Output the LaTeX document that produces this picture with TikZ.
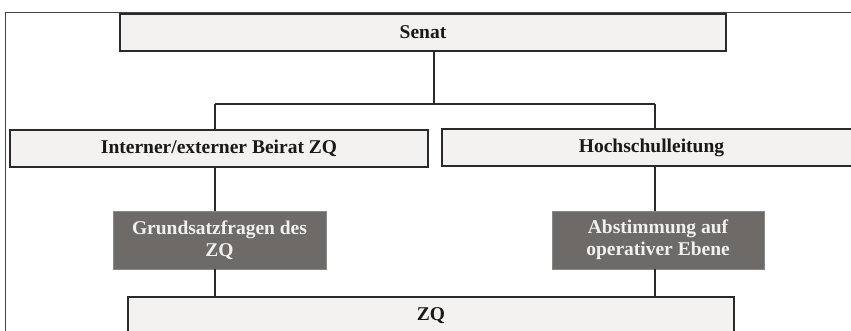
\documentclass[tikz,border=0pt]{standalone}
\usepackage{fontspec}
\setmainfont{Liberation Serif}
\definecolor{lightbox}{HTML}{F3F2F1}
\definecolor{darkbox}{HTML}{6D6A68}
\definecolor{edge}{HTML}{2A2A2A}
\definecolor{frame}{HTML}{444444}
\begin{document}
\begin{tikzpicture}[x=1pt,y=-1pt,
  lbox/.style={draw=edge, line width=1.2pt, fill=lightbox, inner sep=0pt,
    minimum height=37pt, font=\fontsize{19.5}{22}\selectfont\bfseries, text=black!90},
  dbox/.style={fill=darkbox, draw=darkbox!80!white, line width=0.6pt, inner sep=0pt,
    minimum width=212pt, minimum height=58pt, align=center,
    font=\fontsize{19.5}{22}\selectfont\bfseries, text=white!94!black},
  conn/.style={draw=edge, line width=1.3pt}]
\useasboundingbox (0,0) rectangle (851,331);
% frame
\draw[frame, line width=1pt] (5.5,331) -- (5.5,12.5) -- (851,12.5);
% boxes
\node[lbox, minimum width=606pt] (senat) at (423,32.5) {Senat};
\node[lbox, minimum width=418pt] (beirat) at (219,148.5) {Interner/externer Beirat ZQ};
\node[lbox, minimum width=413pt] (hsl) at (648.5,147.5) {\hspace*{6pt}Hochschulleitung};
\node[dbox, minimum width=213pt] (grund) at (219.5,240) {Grundsatzfragen des\\ZQ};
\node[dbox] (abst) at (658,240) {Abstimmung auf\\operativer Ebene};
\node[lbox, minimum width=606pt] (zq) at (431,315.5) {ZQ};
% connectors
\coordinate (j) at (434,104);
\coordinate (hl) at (215,104);
\coordinate (hr) at (655,104);
\draw[conn] (senat.south -| j) -- (j);
\draw[conn] (hl) -- (hr);
\draw[conn] (hl) -- (hl |- beirat.north);
\draw[conn] (hr) -- (hr |- hsl.north);
\draw[conn] (beirat.south -| hl) -- (grund.north -| hl);
\draw[conn] (grund.south -| hl) -- (zq.north -| hl);
\draw[conn] (hsl.south -| hr) -- (abst.north -| hr);
\draw[conn] (abst.south -| hr) -- (zq.north -| hr);
\end{tikzpicture}
\end{document}
